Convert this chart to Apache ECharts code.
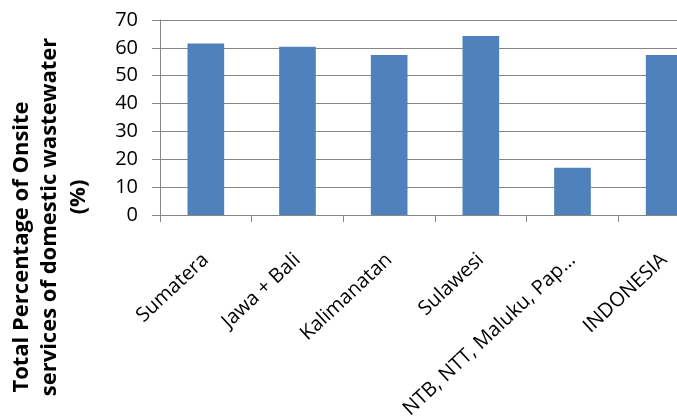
<!DOCTYPE html>
<html lang="en">
<head>
<meta charset="utf-8">
<script src="https://cdn.jsdelivr.net/npm/echarts@6/dist/echarts.min.js"></script>
<style>
  * { margin: 0; padding: 0; }
  body { background: #fff; }
</style>
</head>
<body>
<div id="main" style="width:677px;height:416px;"></div>
<script>
// regions and onsite wastewater share (%)
var regions = ['Sumatera', 'Jawa + Bali', 'Kalimanatan', 'Sulawesi', 'NTB, NTT, Maluku, Pap\u2026', 'INDONESIA'];
var onsitePct = [61.6, 60.4, 57.4, 64.3, 17.0, 57.4];
var yTicks = { min: 0, max: 70, step: 10 };
var yTitleLines = ['Total Percentage of Onsite', 'services of domestic wastewater', '(%)'];

var chart = echarts.init(document.getElementById('main'));
var grey = '#868686';
var font = '"Open Sans", sans-serif';

// each title line placed by hand (Excel did not center them exactly)
var titlePos = [[22, 247], [50, 217], [79, 197]];
var titleTexts = yTitleLines.map(function (t, i) {
    return {
        type: 'text',
        x: titlePos[i][0], y: titlePos[i][1],
        rotation: Math.PI / 2,
        style: {
            text: t,
            fill: '#000',
            font: 'bold 22px "Open Sans", sans-serif',
            align: 'center',
            verticalAlign: 'middle'
        }
    };
});

chart.setOption({
    animation: false,
    backgroundColor: '#fff',
    grid: { left: 160, top: 20, height: 195, width: 550, containLabel: false, outerBoundsMode: 'none' },
    xAxis: {
        type: 'category',
        data: regions,
        axisLine: { lineStyle: { color: grey, width: 1 } },
        axisTick: { show: true, length: 7, lineStyle: { color: grey } },
        axisLabel: {
            rotate: 43, interval: 0, margin: 42,
            color: '#000', fontFamily: font, fontSize: 20
        }
    },
    yAxis: {
        type: 'value',
        min: yTicks.min, max: yTicks.max, interval: yTicks.step,
        axisLine: { show: true, lineStyle: { color: grey } },
        axisTick: { show: true, length: 8, lineStyle: { color: grey } },
        splitLine: { lineStyle: { color: grey, width: 1 } },
        axisLabel: { margin: 22, color: '#000', fontFamily: font, fontSize: 20 }
    },
    graphic: titleTexts,
    series: [{
        type: 'bar',
        data: onsitePct,
        barWidth: '40%',
        itemStyle: { color: '#4F81BD' }
    }]
});
</script>
</body>
</html>
